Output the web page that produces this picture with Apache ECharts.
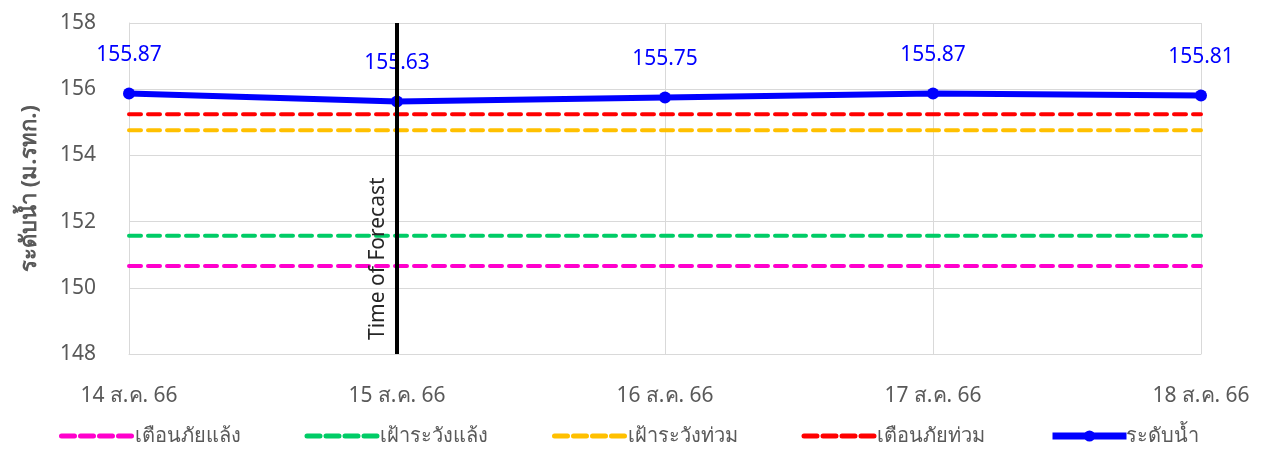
<!DOCTYPE html>
<html><head><meta charset="utf-8">
<script src="https://cdn.jsdelivr.net/npm/echarts@6/dist/echarts.min.js"></script>
<style>html,body{margin:0;padding:0;background:#fff}#c{width:1266px;height:453px}</style>
</head><body><div id="c"></div>
<script>
const categories = ['14 ส.ค. 66', '15 ส.ค. 66', '16 ส.ค. 66', '17 ส.ค. 66', '18 ส.ค. 66'];
const droughtWarning = [150.66, 150.66, 150.66, 150.66, 150.66];
const droughtWatch = [151.57, 151.57, 151.57, 151.57, 151.57];
const floodWatch = [154.76, 154.76, 154.76, 154.76, 154.76];
const floodWarning = [155.24, 155.24, 155.24, 155.24, 155.24];
const waterLevel = [155.87, 155.63, 155.75, 155.87, 155.81];
const yTicks = { min: 148, max: 158, interval: 2 };
const forecastAt = '15 ส.ค. 66';

const FONT = '"Noto Sans", Tahoma, sans-serif';
function dashSeries(name, data, color) {
  return {
    name, type: 'line', data, showSymbol: false, symbol: 'none',
    lineStyle: { color, width: 4, type: [12, 7], cap: 'round' },
    itemStyle: { color }, silent: true, z: 2
  };
}
const legendDash = (name, color) => ({
  name,
  itemStyle: { opacity: 0 },
  lineStyle: { color, width: 5, type: [13, 6], cap: 'round' }
});
const chart = echarts.init(document.getElementById('c'));
chart.setOption({
  animation: false,
  textStyle: { fontFamily: FONT },
  grid: { left: 129, right: 65, top: 23, bottom: 99 },
  legend: {
    bottom: 2, left: 54, itemGap: 64, itemWidth: 74, itemHeight: 14,
    textStyle: { color: '#595959', fontSize: 20, fontFamily: FONT, padding: [0, 0, 0, -6] },
    data: [
      legendDash('เตือนภัยแล้ง', '#ff00cc'),
      legendDash('เฝ้าระวังแล้ง', '#00cc66'),
      legendDash('เฝ้าระวังท่วม', '#ffc000'),
      legendDash('เตือนภัยท่วม', '#ff0000'),
      { name: 'ระดับน้ำ', lineStyle: { color: '#0000ff', width: 7 } }
    ]
  },
  xAxis: {
    type: 'category', data: categories, boundaryGap: false,
    axisLine: { show: true, lineStyle: { color: '#d9d9d9' } },
    axisTick: { show: false },
    axisLabel: { color: '#595959', fontSize: 21, margin: 32, fontFamily: FONT },
    splitLine: { show: true, lineStyle: { color: '#d9d9d9', width: 1 } }
  },
  yAxis: {
    type: 'value', min: yTicks.min, max: yTicks.max, interval: yTicks.interval,
    name: 'ระดับน้ำ (ม.รทก.)', nameLocation: 'middle', nameGap: 88, nameRotate: 90,
    nameTextStyle: { color: '#595959', fontSize: 22, fontWeight: 'bold', fontFamily: FONT },
    axisLine: { show: true, lineStyle: { color: '#d9d9d9' } },
    axisTick: { show: false },
    axisLabel: { color: '#595959', fontSize: 21, margin: 33, fontFamily: FONT },
    splitLine: { show: true, lineStyle: { color: '#d9d9d9', width: 1 } }
  },
  series: [
    dashSeries('เตือนภัยแล้ง', droughtWarning, '#ff00cc'),
    dashSeries('เฝ้าระวังแล้ง', droughtWatch, '#00cc66'),
    dashSeries('เฝ้าระวังท่วม', floodWatch, '#ffc000'),
    dashSeries('เตือนภัยท่วม', floodWarning, '#ff0000'),
    {
      name: 'ระดับน้ำ', type: 'line', data: waterLevel, z: 5,
      symbol: 'circle', symbolSize: 12, showSymbol: true,
      lineStyle: { color: '#0000ff', width: 6 },
      itemStyle: { color: '#0000ff' },
      label: { show: true, position: 'top', distance: 22, color: '#0000ff', fontSize: 21, fontFamily: FONT,
        formatter: p => p.value.toFixed(2) },
      markLine: {
        silent: true, symbol: 'none', z: 6,
        lineStyle: { color: '#000000', width: 4, type: 'solid' },
        label: { show: true, formatter: 'Time of Forecast', position: 'insideStartTop', distance: [14, 8],
          color: '#262626', fontSize: 21, fontFamily: FONT },
        data: [{ xAxis: forecastAt }]
      }
    }
  ]
});
</script></body></html>
